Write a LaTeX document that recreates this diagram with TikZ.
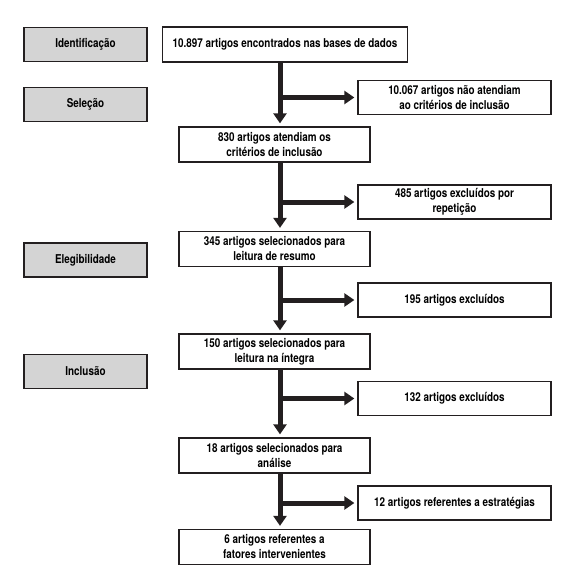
\documentclass[tikz,border=0pt]{standalone}
\usepackage{fontspec}
\setmainfont{TeX Gyre Heros}[FakeStretch=0.81]
\definecolor{edge}{RGB}{35,31,32}
\definecolor{stagegray}{RGB}{212,212,212}
\usetikzlibrary{positioning, arrows.meta, calc}

\begin{document}
\begin{tikzpicture}[
  x=1pt, y=-1pt,
  stage/.style={draw=edge, fill=stagegray, line width=1.3pt,
                minimum width=123pt, minimum height=34pt, inner sep=0pt,
                font=\bfseries\fontsize{12.2}{15}\selectfont, align=center},
  mainbox/.style={draw=edge, fill=white, line width=1.3pt,
                  minimum width=191pt, minimum height=35pt, inner sep=0pt,
                  font=\bfseries\fontsize{12.2}{15}\selectfont, align=center},
  sidebox/.style={mainbox, minimum width=193pt, minimum height=34pt},
  flow/.style={-{Triangle[width=13pt, length=10pt]}, line width=5pt,
               color=edge, shorten >=3pt},
]
  \useasboundingbox (0,0) rectangle (584,584);

  % stages on the left
  \node[stage] (ident) at (85.5,44.5) {Identificação};
  \node[stage] (selec) at (85.5,104.5) {Seleção};
  \node[stage] (eleg) at (85.5,260) {Elegibilidade};
  \node[stage] (incl) at (85.5,371.5) {Inclusão};

  % main column
  \node[mainbox, minimum width=245pt] (found) at (285,44.5) {10.897 artigos encontrados nas bases de dados};
  \node[mainbox] (meet) at (274.5,144.5) {830 artigos atendiam os\\critérios de inclusão};
  \node[mainbox] (abstr) at (274.5,249) {345 artigos selecionados para\\leitura de resumo};
  \node[mainbox] (full) at (274.5,351.5) {150 artigos selecionados para\\leitura na íntegra};
  \node[mainbox] (anal) at (274.5,455.5) {18 artigos selecionados para\\análise};
  \node[mainbox] (factors) at (274.5,547) {6 artigos referentes a\\fatores intervenientes};

  % excluded on the right
  \node[sidebox] (notmeet) at (454.5,97.5) {10.067 artigos não atendiam\\ao critérios de inclusão};
  \node[sidebox] (dup) at (454.5,202) {485 artigos excluídos por\\repetição};
  \node[sidebox] (excla) at (454.5,300) {195 artigos excluídos};
  \node[sidebox] (exclb) at (454.5,398.5) {132 artigos excluídos};
  \node[sidebox] (strat) at (454.5,503) {12 artigos referentes a estratégias};

  \coordinate (trunk) at (280,0);

  \draw[flow] (found.south -| trunk) -- (meet.north -| trunk);
  \draw[flow] (meet.south -| trunk) -- (abstr.north -| trunk);
  \draw[flow] (abstr.south -| trunk) -- (full.north -| trunk);
  \draw[flow] (full.south -| trunk) -- (anal.north -| trunk);
  \draw[flow] (anal.south -| trunk) -- (factors.north -| trunk);

  \draw[flow] (notmeet.west -| trunk) -- (notmeet.west);
  \draw[flow] (dup.west -| trunk) -- (dup.west);
  \draw[flow] (excla.west -| trunk) -- (excla.west);
  \draw[flow] (exclb.west -| trunk) -- (exclb.west);
  \draw[flow] (strat.west -| trunk) -- (strat.west);
\end{tikzpicture}
\end{document}
